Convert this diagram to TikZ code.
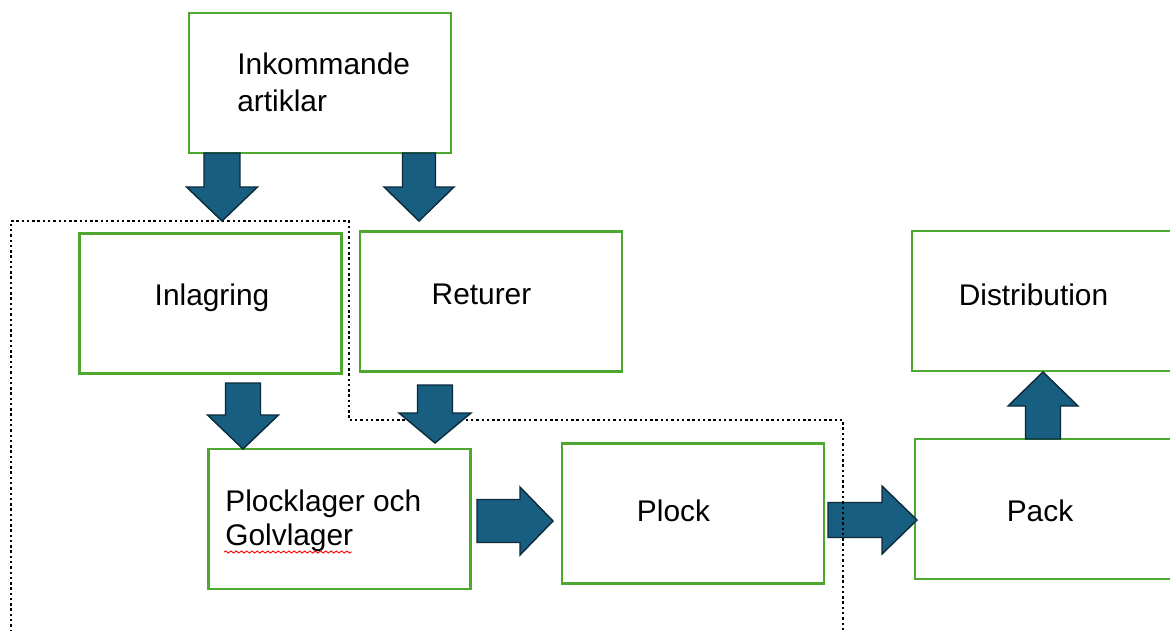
\documentclass[tikz,border=0pt]{standalone}
\usepackage{fontspec}
\setmainfont{Liberation Sans}
\usetikzlibrary{calc,decorations.pathmorphing}

\definecolor{boxgreen}{HTML}{4EA72E}
\definecolor{arrowblue}{HTML}{185E80}
\definecolor{arrowedge}{HTML}{0B2A3A}

\tikzset{
	box/.style={draw=boxgreen, line width=1.4pt, minimum width=5.24cm, minimum height=2.8cm, inner sep=0pt},
	lbl/.style={font=\fontsize{17}{21}\selectfont, inner sep=0pt, align=left},
	blk/.style={fill=arrowblue, draw=arrowedge, line width=0.8pt, line join=miter},
	zone/.style={line width=1.5pt, dash pattern=on 1.4pt off 1.6pt},
}

% block arrow: start, tip, shaft half width, head half width, head length
\newcommand{\blockarrow}[5]{%
	\coordinate (hb) at ($(#2)!#5!(#1)$);
	\draw[blk] ($(#1)!#3!90:(#2)$) -- ($(hb)!#3!90:(#2)$) -- ($(hb)!#4!90:(#2)$) -- (#2)
		-- ($(hb)!#4!-90:(#2)$) -- ($(hb)!#3!-90:(#2)$) -- ($(#1)!#3!-90:(#2)$) -- cycle;
}

\begin{document}
\begin{tikzpicture}[x=0.02cm, y=-0.02cm]
	\useasboundingbox (0,0) rectangle (1170,630);

	\node[box] (ink) at (320,83) {};
	\node[box] (inl) at (210.5,303.5) {};
	\node[box] (ret) at (491,301.5) {};
	\node[box] (dist) at (1043,301) {};
	\node[box] (plg) at (339.5,519) {};
	\node[box] (plock) at (693,513.5) {};
	\node[box] (pack) at (1046,509) {};

	\node[lbl, anchor=base west] (ink-t) at (237,111) {Inkommande\\artiklar};
	\node[lbl, anchor=base] (inl-t) at (212,305) {Inlagring};
	\node[lbl, anchor=base] (ret-t) at (481.5,304) {Returer};
	\node[lbl, anchor=base] (dist-t) at (1033.5,305) {Distribution};
	\node[lbl, anchor=base west] (plg-t) at (225,545) {Plocklager och\\[-1.7pt]Golvlager};
	\node[lbl, anchor=base] (plock-t) at (673.5,521) {Plock};
	\node[lbl, anchor=base] (pack-t) at (1040,521) {Pack};

	% spelling mark
	\draw[red, line width=0.5pt, decorate, decoration={snake, amplitude=0.6pt, segment length=3pt}] (224,552) -- (352,552);

	% arrow ends
	\coordinate (a1s) at (222,153);  \coordinate (a1t) at (222,221);
	\coordinate (a2s) at (419,153);  \coordinate (a2t) at (419,221);
	\coordinate (a3s) at (243,383);  \coordinate (a3t) at (243,449);
	\coordinate (a4s) at (435,385);  \coordinate (a4t) at (435,443);
	\coordinate (a5s) at (477,521);  \coordinate (a5t) at (553,521);
	\coordinate (a6s) at (828,520);  \coordinate (a6t) at (917,520);
	\coordinate (a7s) at (1043,439); \coordinate (a7t) at (1043,372);

	\blockarrow{a6s}{a6t}{0.35cm}{0.68cm}{0.70cm}

	% zone
	\draw[zone] (11,632) -- (11,221) -- (349,221) -- (349,420) -- (843,420) -- (843,632);

	\blockarrow{a1s}{a1t}{0.36cm}{0.71cm}{0.68cm}
	\blockarrow{a2s}{a2t}{0.33cm}{0.70cm}{0.68cm}
	\blockarrow{a3s}{a3t}{0.35cm}{0.71cm}{0.68cm}
	\blockarrow{a4s}{a4t}{0.35cm}{0.72cm}{0.60cm}
	\blockarrow{a5s}{a5t}{0.43cm}{0.68cm}{0.66cm}
	\blockarrow{a7s}{a7t}{0.35cm}{0.70cm}{0.68cm}
\end{tikzpicture}
\end{document}
